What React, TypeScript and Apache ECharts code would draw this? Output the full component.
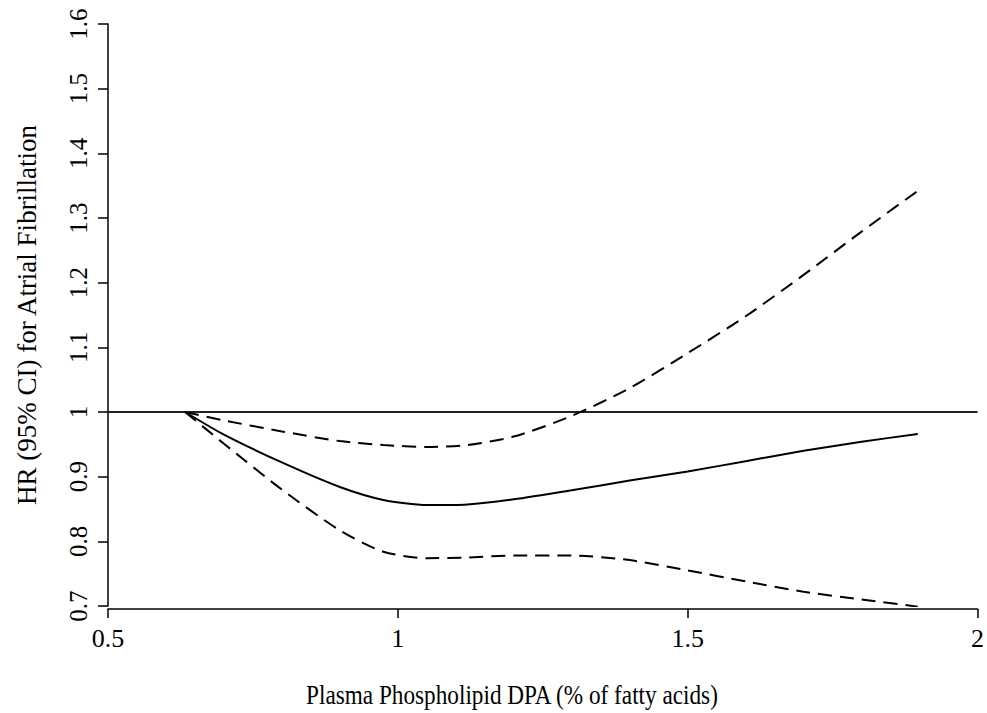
import React, { useEffect, useRef } from "react";
import * as echarts from "echarts";

const xValues = [0.633, 0.7, 0.8, 0.9, 0.975, 1.05, 1.12, 1.2, 1.3, 1.4, 1.5, 1.6, 1.7, 1.8, 1.897];
const hrEstimate = [1.0, 0.965, 0.922, 0.884, 0.864, 0.856, 0.857, 0.865, 0.879, 0.894, 0.908, 0.924, 0.94, 0.954, 0.966];
const upperCI = [1.0, 0.987, 0.97, 0.955, 0.949, 0.946, 0.949, 0.962, 0.994, 1.037, 1.091, 1.148, 1.212, 1.279, 1.342];
const lowerCI = [1.0, 0.951, 0.88, 0.817, 0.784, 0.774, 0.775, 0.778, 0.778, 0.771, 0.755, 0.738, 0.722, 0.71, 0.699];
const refX = [0.5, 2];
const refY = [1, 1];

const xTitle = "Plasma Phospholipid DPA (% of fatty acids)";
const yTitle = "HR (95% CI) for Atrial Fibrillation";

const FONT = "'Liberation Serif', 'Times New Roman', serif";

export default function App() {
  const ref = useRef<HTMLDivElement>(null);
  useEffect(() => {
    if (!ref.current) return;
    const chart = echarts.init(ref.current, null, { renderer: "svg" });
    const zip = (xs: number[], ys: number[]) => xs.map((x, i) => [x, ys[i]]);
    const curve = (ys: number[], dashed: boolean) => ({
      type: "line",
      data: zip(xValues, ys),
      symbol: "none",
      smooth: 0.25,
      lineStyle: { color: "#000", width: 2, type: dashed ? [14, 8] : "solid" },
    });
    chart.setOption({
      animation: false,
      backgroundColor: "#ffffff",
      grid: { left: 108, right: 9, top: 24, bottom: 107, containLabel: false },
      xAxis: {
        type: "value",
        min: 0.5,
        max: 2,
        interval: 0.5,
        offset: 3,
        splitLine: { show: false },
        axisLine: { show: true, lineStyle: { color: "#000", width: 1.5 } },
        axisTick: { show: true, length: 9, lineStyle: { color: "#000", width: 1.5 } },
        axisLabel: { color: "#000", fontFamily: FONT, fontSize: 26, margin: 16 },
      },
      yAxis: {
        type: "value",
        min: 0.7,
        max: 1.6,
        interval: 0.1,
        splitLine: { show: false },
        axisLine: { show: true, lineStyle: { color: "#000", width: 1.5 } },
        axisTick: { show: true, length: 10, lineStyle: { color: "#000", width: 1.5 } },
        axisLabel: {
          color: "#000",
          fontFamily: FONT,
          fontSize: 25,
          rotate: 90,
          margin: 17,
          formatter: (v: number) => String(Math.round(v * 10) / 10),
        },
        name: yTitle,
        nameLocation: "middle",
        nameRotate: 90,
        nameGap: 68,
        nameTextStyle: { color: "#000", fontFamily: FONT, fontSize: 27 },
      },
      graphic: [
        {
          type: "text",
          x: 512,
          y: 695,
          scaleX: 0.86,
          style: {
            text: xTitle,
            fill: "#000",
            font: `27px ${FONT}`,
            textAlign: "center",
            textVerticalAlign: "middle",
          },
        },
      ],
      series: [
        {
          type: "line",
          data: zip(refX, refY),
          symbol: "none",
          lineStyle: { color: "#222", width: 2 },
          silent: true,
        },
        curve(hrEstimate, false),
        curve(upperCI, true),
        curve(lowerCI, true),
      ],
    });
    return () => chart.dispose();
  }, []);
  return (
    <div
      ref={ref}
      style={{ position: "fixed", left: 0, top: 0, width: 987, height: 713 }}
    />
  );
}
